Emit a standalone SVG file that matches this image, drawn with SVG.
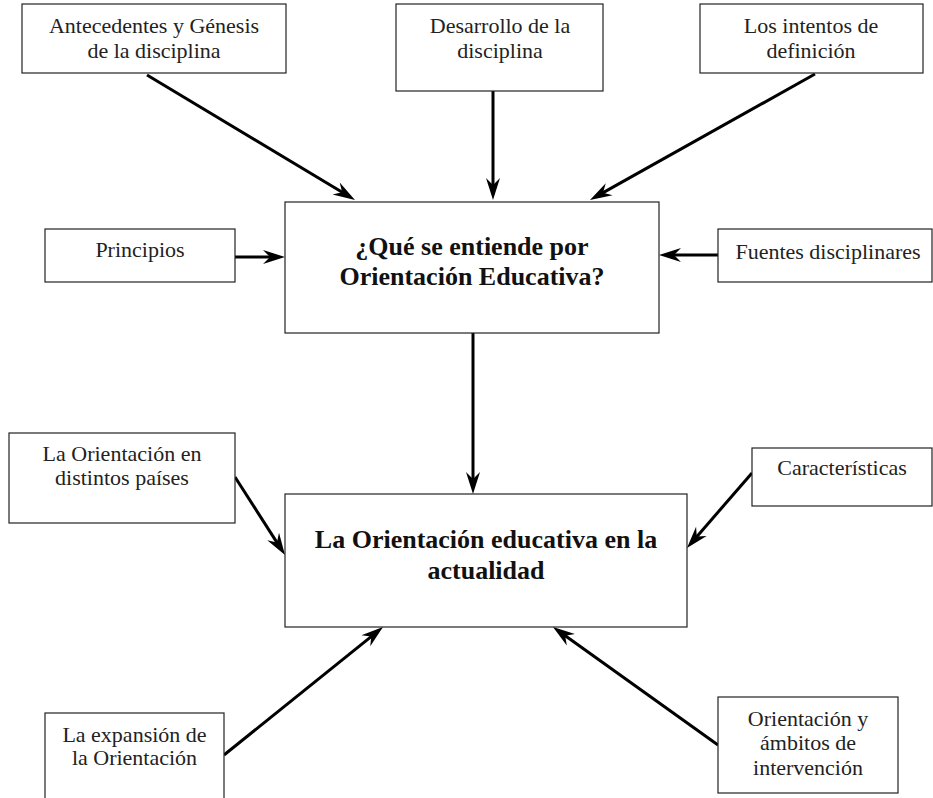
<svg xmlns="http://www.w3.org/2000/svg" width="933" height="798" viewBox="0 0 933 798">
<defs>
<style>
.box{fill:#fff;stroke:#222;stroke-width:1.2}
.t{font-family:"Liberation Serif","Times New Roman",serif;font-size:22px;fill:#222;text-anchor:middle}
.b{font-family:"Liberation Serif","Times New Roman",serif;font-size:26px;font-weight:bold;fill:#111;text-anchor:middle}
.c{stroke:#000;stroke-width:3;fill:none;marker-end:url(#ah)}
</style>
<marker id="ah" markerUnits="userSpaceOnUse" markerWidth="24" markerHeight="16" viewBox="-24 -8 24 16" refX="-10" refY="0" orient="auto">
<path d="M0,0 L-22,-7 L-15,0 L-22,7 Z" fill="#000"/>
</marker>
</defs>
<rect width="933" height="798" fill="#fff"/>
<g id="connectors">
<line class="c" x1="147" y1="75" x2="346.4" y2="194.8"/>
<line class="c" x1="493" y1="91" x2="493" y2="190"/>
<line class="c" x1="815" y1="74" x2="598.7" y2="195.1"/>
<line class="c" x1="235" y1="257" x2="275" y2="257"/>
<line class="c" x1="718" y1="255" x2="669" y2="255"/>
<line class="c" x1="473" y1="333" x2="473" y2="484"/>
<line class="c" x1="235" y1="477" x2="279.6" y2="546.6"/>
<line class="c" x1="752" y1="473" x2="693.5" y2="540.4"/>
<line class="c" x1="224" y1="755" x2="375.2" y2="633.3"/>
<line class="c" x1="718" y1="745" x2="561.1" y2="632.8"/>
</g>
<g id="antecedentes">
<rect class="box" x="22" y="4" width="264" height="69"/>
<text class="t" x="154" y="33">Antecedentes y Génesis</text>
<text class="t" x="154" y="58">de la disciplina</text>
</g>
<g id="desarrollo">
<rect class="box" x="396" y="4" width="207" height="87"/>
<text class="t" x="500" y="33">Desarrollo de la</text>
<text class="t" x="500" y="58">disciplina</text>
</g>
<g id="intentos">
<rect class="box" x="700" y="4" width="223" height="69"/>
<text class="t" x="811" y="33">Los intentos de</text>
<text class="t" x="811" y="58">definición</text>
</g>
<g id="que-se-entiende">
<rect class="box" x="285" y="202" width="374" height="131"/>
<text class="b" x="472" y="255">¿Qué se entiende por</text>
<text class="b" x="472" y="285">Orientación Educativa?</text>
</g>
<g id="principios">
<rect class="box" x="45" y="229" width="190" height="53"/>
<text class="t" x="140" y="257">Principios</text>
</g>
<g id="fuentes">
<rect class="box" x="718" y="229" width="214" height="53"/>
<text class="t" x="828" y="259">Fuentes disciplinares</text>
</g>
<g id="actualidad">
<rect class="box" x="285" y="494" width="402" height="133"/>
<text class="b" x="486" y="548">La Orientación educativa en la</text>
<text class="b" x="486" y="579">actualidad</text>
</g>
<g id="paises">
<rect class="box" x="9" y="433" width="226" height="90"/>
<text class="t" x="122" y="461">La Orientación en</text>
<text class="t" x="122" y="485">distintos países</text>
</g>
<g id="caracteristicas">
<rect class="box" x="752" y="448" width="180" height="58"/>
<text class="t" x="842" y="475">Características</text>
</g>
<g id="expansion">
<rect class="box" x="45" y="713" width="179" height="90"/>
<text class="t" x="134.5" y="742">La expansión de</text>
<text class="t" x="134.5" y="765">la Orientación</text>
</g>
<g id="ambitos">
<rect class="box" x="718" y="697" width="180" height="96"/>
<text class="t" x="808" y="726">Orientación y</text>
<text class="t" x="808" y="750">ámbitos de</text>
<text class="t" x="808" y="775">intervención</text>
</g>
</svg>
